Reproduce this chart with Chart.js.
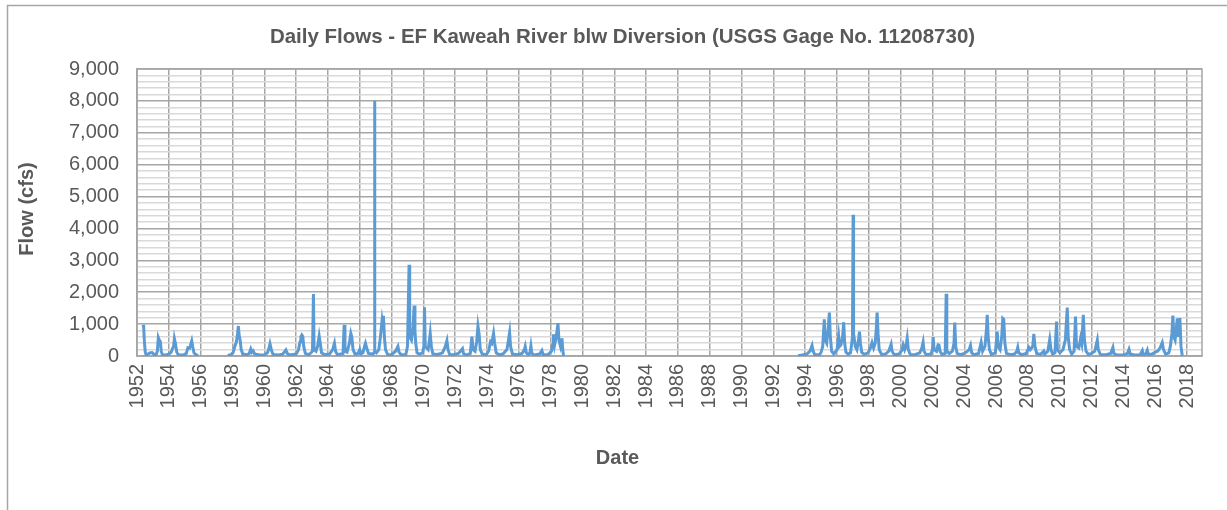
<!DOCTYPE html>
<html>
<head>
<meta charset="utf-8">
<script src="https://cdn.jsdelivr.net/npm/chart.js@4.4.1/dist/chart.umd.min.js"></script>
<style>
  html, body { margin: 0; padding: 0; background: #ffffff; }
  #wrap { width: 1227px; height: 510px; position: relative; }
</style>
</head>
<body>
<div id="wrap"><canvas id="c" width="1227" height="510"></canvas></div>
<script>
// ---- Data (decimal year, daily flow in cfs); null = no record ----
const flowDates = [
  1952.38,1952.42,1952.47,1952.52,1952.58,1952.70,1952.80,1952.95,1953.05,1953.20,
  1953.28,1953.34,1953.40,1953.47,1953.52,1953.60,1953.80,1954.00,1954.15,1954.22,
  1954.30,1954.35,1954.42,1954.50,1954.60,1954.90,1955.10,1955.20,1955.30,1955.36,
  1955.44,1955.50,1955.58,1955.70,1955.84,
  1956.50,
  1957.70,1957.90,1958.05,1958.15,1958.25,1958.32,1958.37,1958.42,1958.48,1958.55,
  1958.65,1958.90,1959.05,1959.15,1959.22,1959.30,1959.40,1959.70,1960.00,1960.20,
  1960.30,1960.36,1960.45,1960.55,1960.90,1961.15,1961.30,1961.36,1961.45,1961.60,
  1962.00,1962.15,1962.25,1962.30,1962.36,1962.42,1962.48,1962.58,1962.80,1963.03,
  1963.09,1963.13,1963.25,1963.35,1963.45,1963.52,1963.60,1963.80,1964.10,1964.30,
  1964.41,1964.48,1964.60,1964.95,1965.02,1965.07,1965.20,1965.35,1965.44,1965.50,
  1965.58,1965.70,1965.90,1966.00,1966.08,1966.20,1966.30,1966.36,1966.44,1966.55,
  1966.85,1966.91,1966.93,1966.955,1967.05,1967.20,1967.30,1967.40,1967.45,1967.49,
  1967.55,1967.62,1967.75,1968.00,1968.25,1968.40,1968.47,1968.60,1968.90,1969.00,
  1969.05,1969.10,1969.14,1969.25,1969.35,1969.42,1969.47,1969.52,1969.60,1969.75,
  1969.95,1970.03,1970.07,1970.12,1970.30,1970.38,1970.43,1970.50,1970.60,1970.90,
  1971.20,1971.38,1971.48,1971.55,1971.65,1971.90,1972.20,1972.38,1972.46,1972.52,
  1972.70,1972.95,1973.05,1973.12,1973.25,1973.35,1973.43,1973.50,1973.58,1973.70,
  1973.95,1974.10,1974.22,1974.30,1974.41,1974.48,1974.58,1974.75,1975.00,1975.25,
  1975.35,1975.42,1975.48,1975.60,1975.90,1976.20,1976.35,1976.40,1976.47,1976.60,
  1976.70,1976.76,1976.82,1977.00,1977.30,1977.45,1977.52,1977.80,1978.05,1978.15,
  1978.18,1978.25,1978.35,1978.46,1978.52,1978.62,1978.68,1978.71,1978.76,1978.81,
  1986.00,
  1993.55,1993.80,1994.10,1994.30,1994.43,1994.50,1994.60,1994.90,1995.00,1995.10,
  1995.20,1995.25,1995.35,1995.45,1995.52,1995.58,1995.66,1995.80,1996.00,1996.10,
  1996.16,1996.25,1996.35,1996.42,1996.48,1996.56,1996.70,1996.85,1996.97,1997.01,
  1997.04,1997.15,1997.25,1997.35,1997.41,1997.47,1997.55,1997.70,1997.95,1998.10,
  1998.20,1998.30,1998.40,1998.47,1998.52,1998.58,1998.65,1998.80,1999.05,1999.25,
  1999.40,1999.46,1999.60,1999.90,2000.10,2000.16,2000.25,2000.35,2000.41,2000.48,
  2000.60,2000.90,2001.20,2001.33,2001.41,2001.47,2001.60,2001.90,2002.00,2002.04,
  2002.10,2002.25,2002.35,2002.40,2002.47,2002.60,2002.80,2002.86,2002.90,2003.05,
  2003.25,2003.35,2003.40,2003.46,2003.55,2003.75,2004.00,2004.20,2004.30,2004.39,
  2004.46,2004.60,2004.90,2005.06,2005.15,2005.30,2005.40,2005.44,2005.50,2005.58,
  2005.70,2005.95,2006.07,2006.12,2006.25,2006.35,2006.42,2006.48,2006.55,2006.65,
  2006.90,2007.15,2007.30,2007.36,2007.42,2007.60,2007.90,2008.06,2008.15,2008.30,
  2008.37,2008.44,2008.55,2008.80,2008.99,2009.05,2009.25,2009.37,2009.45,2009.55,
  2009.70,2009.80,2009.85,2010.00,2010.20,2010.35,2010.47,2010.53,2010.62,2010.75,
  2010.90,2010.99,2011.05,2011.20,2011.31,2011.38,2011.48,2011.55,2011.65,2011.80,
  2012.00,2012.20,2012.36,2012.42,2012.55,2012.90,2013.20,2013.34,2013.40,2013.60,
  2014.00,2014.25,2014.35,2014.42,2014.70,2015.05,2015.19,2015.25,2015.40,2015.50,
  2015.56,2015.80,2016.00,2016.15,2016.30,2016.44,2016.52,2016.65,2016.85,2016.95,
  2017.05,2017.11,2017.17,2017.25,2017.33,2017.39,2017.45,2017.50,2017.55,2017.62,
  2017.70
];
const flows = [
  980,900,400,120,30,60,100,110,60,40,
  150,580,500,450,150,40,30,60,120,220,
  300,545,380,120,40,30,80,260,240,330,
  470,300,100,40,10,
  null,
  20,40,120,300,450,700,940,650,500,200,
  60,40,80,220,120,160,60,30,40,100,
  250,380,180,50,30,60,150,190,80,30,
  60,200,450,600,660,620,300,80,40,150,
  1940,200,150,300,630,400,100,40,60,200,
  400,150,40,80,975,150,120,400,710,600,
  200,60,80,200,70,100,300,400,250,80,
  60,120,8000,150,100,200,600,1100,900,1260,
  600,200,50,40,150,300,120,40,50,300,
  1500,2860,600,500,900,1580,800,400,100,60,
  100,300,1530,300,200,500,710,300,60,50,
  100,300,480,200,50,40,80,180,230,80,
  30,80,610,200,150,450,940,700,200,60,
  40,150,450,400,710,400,100,40,60,200,
  500,730,300,60,40,80,200,300,100,40,
  100,310,80,30,60,170,50,30,150,400,
  680,350,600,1030,500,300,450,560,200,10,
  null,
  10,30,60,150,330,150,40,40,120,300,
  1150,500,400,900,1360,600,150,60,200,630,
  300,350,600,1060,400,120,60,100,600,4430,
  700,300,200,500,765,400,120,50,100,250,
  420,250,400,900,1360,700,200,50,60,150,
  370,150,40,60,200,345,200,350,555,200,
  50,40,100,250,430,150,40,60,200,590,
  200,150,350,380,150,50,80,1950,150,80,
  150,400,1050,300,80,40,80,150,200,330,
  100,40,80,430,150,300,900,1290,600,200,
  50,100,765,300,200,600,1180,1150,400,80,
  40,60,150,270,100,40,80,270,200,300,
  690,300,80,50,150,60,150,520,200,60,
  100,1080,200,100,200,500,1520,600,200,60,
  150,1240,300,250,555,400,1290,500,150,50,
  80,150,500,200,50,40,80,270,80,30,
  30,80,210,60,30,40,170,40,60,180,
  50,60,120,150,250,420,200,60,100,300,
  700,1270,600,500,900,1180,600,900,1190,300,
  10
];
const yearTicks = [1952,1954,1956,1958,1960,1962,1964,1966,1968,1970,1972,1974,1976,1978,1980,1982,1984,1986,1988,1990,1992,1994,1996,1998,2000,2002,2004,2006,2008,2010,2012,2014,2016,2018];
const flowTicks = [0,200,400,600,800,1000,1200,1400,1600,1800,2000,2200,2400,2600,2800,3000,3200,3400,3600,3800,4000,4200,4400,4600,4800,5000,5200,5400,5600,5800,6000,6200,6400,6600,6800,7000,7200,7400,7600,7800,8000,8200,8400,8600,8800,9000];
const titleText = 'Daily Flows - EF Kaweah River blw Diversion (USGS Gage No. 11208730)';
const xTitle = 'Date';
const yTitle = 'Flow (cfs)';

const TEXT = '#595959';
const MAJOR = '#A6A6A6';
const MINOR = '#D9D9D9';
const FONT = "'Liberation Sans', Arial, sans-serif";

const frame = {
  id: 'frame',
  beforeDraw(chart) {
    const ctx = chart.ctx;
    ctx.save();
    ctx.strokeStyle = '#A6A6A6';
    ctx.lineWidth = 1.5;
    ctx.beginPath();
    ctx.moveTo(7.5, 511);
    ctx.lineTo(7.5, 5.5);
    ctx.lineTo(1228, 5.5);
    ctx.stroke();
    ctx.restore();
  },
  beforeDatasetsDraw(chart) {
    const a = chart.chartArea;
    const ctx = chart.ctx;
    ctx.save();
    ctx.strokeStyle = MAJOR;
    ctx.lineWidth = 1.5;
    ctx.strokeRect(a.left, a.top, a.right - a.left, a.bottom - a.top);
    ctx.restore();
  },
  afterDraw(chart) {
    const ctx = chart.ctx;
    ctx.save();
    ctx.fillStyle = TEXT;
    ctx.textAlign = 'center';
    ctx.textBaseline = 'middle';
    ctx.font = "bold 20.5px " + FONT;
    ctx.fillText(titleText, 622.5, 37);
    ctx.font = "bold 20px " + FONT;
    ctx.fillText(xTitle, 617.5, 458);
    ctx.translate(27, 209);
    ctx.rotate(-Math.PI / 2);
    ctx.fillText(yTitle, 0, 0);
    ctx.restore();
  }
};

new Chart(document.getElementById('c'), {
  type: 'line',
  data: {
    datasets: [{
      data: flowDates.map((d, i) => ({ x: d, y: flows[i] })),
      borderColor: '#5B9BD5',
      backgroundColor: '#5B9BD5',
      borderWidth: 3,
      pointRadius: 0,
      tension: 0,
      spanGaps: false
    }]
  },
  options: {
    responsive: false,
    animation: false,
    layout: { padding: { left: 0, right: 25, top: 69, bottom: 0 } },
    plugins: {
      legend: { display: false },
      tooltip: { enabled: false },
      title: { display: false }
    },
    scales: {
      x: {
        type: 'linear',
        min: 1952,
        max: 2018.94,
        afterBuildTicks: s => { s.ticks = yearTicks.map(v => ({ value: v })); },
        afterFit: s => { s.height = 154; },
        ticks: {
          autoSkip: false,
          minRotation: 90,
          maxRotation: 90,
          padding: 8,
          color: TEXT,
          font: { family: FONT, size: 20 },
          callback: v => String(v)
        },
        grid: { color: MAJOR, lineWidth: 1.5, drawTicks: false },
        border: { color: MAJOR, width: 1.5 }
      },
      y: {
        min: 0,
        max: 9000,
        afterBuildTicks: s => { s.ticks = flowTicks.map(v => ({ value: v })); },
        afterFit: s => { s.width = 137; },
        ticks: {
          autoSkip: false,
          padding: 18,
          color: TEXT,
          font: { family: FONT, size: 20 },
          callback: v => (v % 1000 === 0 ? v.toLocaleString('en-US') : '')
        },
        grid: {
          drawTicks: false,
          color: c => (c.tick && c.tick.value % 1000 === 0 ? MAJOR : MINOR),
          lineWidth: 1.5
        },
        border: { color: MAJOR, width: 1.5 }
      }
    }
  },
  plugins: [frame]
});
</script>
</body>
</html>
